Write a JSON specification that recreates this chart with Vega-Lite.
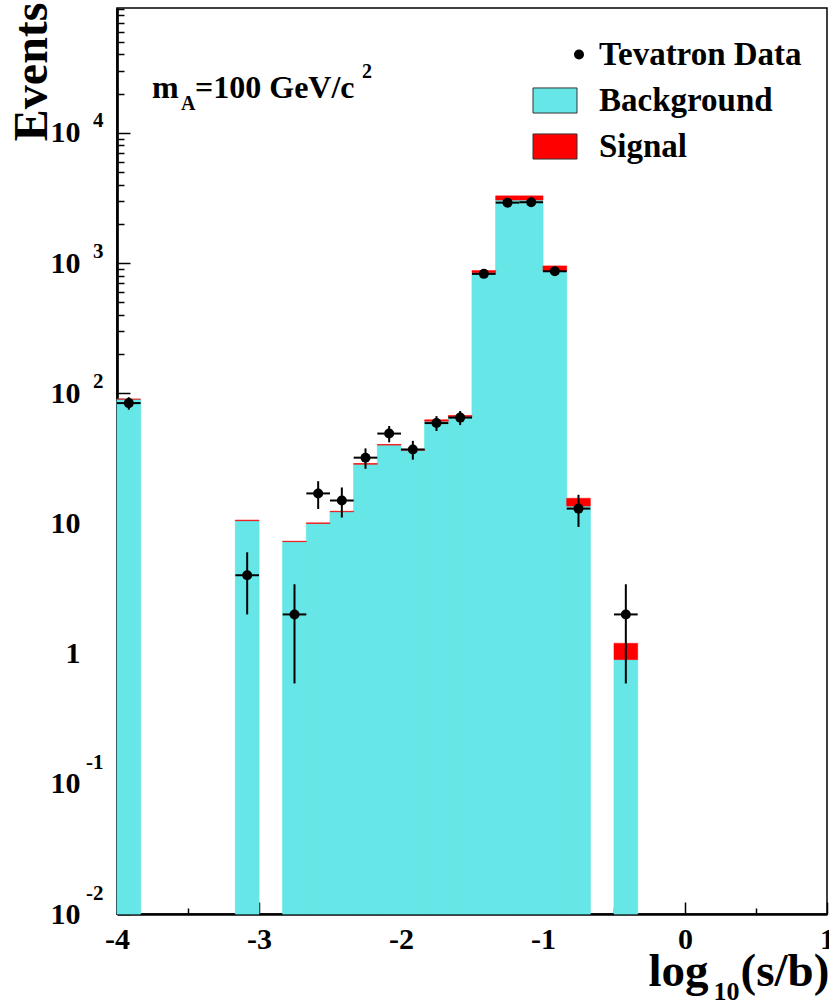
{
  "$schema": "https://vega.github.io/schema/vega-lite/v6.json",
  "width": 710,
  "height": 906,
  "autosize": {"type": "none"},
  "padding": {"left": 117, "top": 8, "right": 2, "bottom": 87},
  "background": "white",
  "config": {
    "view": {"stroke": "black", "strokeWidth": 1.5},
    "font": "Liberation Serif",
    "axis": {"grid": false, "labelFont": "Liberation Serif", "titleFont": "Liberation Serif", "labelFontWeight": "bold", "titleFontWeight": "bold", "labelColor": "black", "titleColor": "black", "tickColor": "black", "domainColor": "black", "labelOverlap": false, "labelFlush": false, "labelBound": false, "zindex": 1},
    "legend": {"labelFont": "Liberation Serif", "labelFontWeight": "bold", "labelColor": "black"}
  },
  "datasets": {
    "hist": [
      {"lo": -4, "hi": -3.8333, "bg": 90, "tot": 90},
      {"lo": -3.1667, "hi": -3, "bg": 10.5, "tot": 10.6},
      {"lo": -2.8333, "hi": -2.6667, "bg": 7.25, "tot": 7.3},
      {"lo": -2.6667, "hi": -2.5, "bg": 10.0, "tot": 10.1},
      {"lo": -2.5, "hi": -2.3333, "bg": 12.3, "tot": 12.4},
      {"lo": -2.3333, "hi": -2.1667, "bg": 28.5, "tot": 28.8},
      {"lo": -2.1667, "hi": -2, "bg": 40, "tot": 40.4},
      {"lo": -2, "hi": -1.8333, "bg": 36.5, "tot": 36.9},
      {"lo": -1.8333, "hi": -1.6667, "bg": 61, "tot": 62.5},
      {"lo": -1.6667, "hi": -1.5, "bg": 66, "tot": 67.5},
      {"lo": -1.5, "hi": -1.3333, "bg": 845, "tot": 875},
      {"lo": -1.3333, "hi": -1.1667, "bg": 3050, "tot": 3280},
      {"lo": -1.1667, "hi": -1, "bg": 3050, "tot": 3280},
      {"lo": -1, "hi": -0.8333, "bg": 860, "tot": 950},
      {"lo": -0.8333, "hi": -0.6667, "bg": 13.6, "tot": 15.6},
      {"lo": -0.5, "hi": -0.3333, "bg": 0.9, "tot": 1.2}
    ],
    "obs": [
      {"x": -3.9167, "xlo": -4, "xhi": -3.8333, "n": 84, "elo": 74.8, "ehi": 93.2},
      {"x": -3.0833, "xlo": -3.1667, "xhi": -3, "n": 4, "elo": 2, "ehi": 6},
      {"x": -2.75, "xlo": -2.8333, "xhi": -2.6667, "n": 2, "elo": 0.59, "ehi": 3.41},
      {"x": -2.5833, "xlo": -2.6667, "xhi": -2.5, "n": 17, "elo": 12.9, "ehi": 21.1},
      {"x": -2.4167, "xlo": -2.5, "xhi": -2.3333, "n": 15, "elo": 11.1, "ehi": 18.9},
      {"x": -2.25, "xlo": -2.3333, "xhi": -2.1667, "n": 32, "elo": 26.3, "ehi": 37.7},
      {"x": -2.0833, "xlo": -2.1667, "xhi": -2, "n": 49, "elo": 42, "ehi": 56},
      {"x": -1.9167, "xlo": -2, "xhi": -1.8333, "n": 37, "elo": 30.9, "ehi": 43.1},
      {"x": -1.75, "xlo": -1.8333, "xhi": -1.6667, "n": 59, "elo": 51.3, "ehi": 66.7},
      {"x": -1.5833, "xlo": -1.6667, "xhi": -1.5, "n": 65, "elo": 56.9, "ehi": 73.1},
      {"x": -1.4167, "xlo": -1.5, "xhi": -1.3333, "n": 826, "elo": 797, "ehi": 855},
      {"x": -1.25, "xlo": -1.3333, "xhi": -1.1667, "n": 2911, "elo": 2857, "ehi": 2965},
      {"x": -1.0833, "xlo": -1.1667, "xhi": -1, "n": 2932, "elo": 2878, "ehi": 2986},
      {"x": -0.9167, "xlo": -1, "xhi": -0.8333, "n": 865, "elo": 836, "ehi": 894},
      {"x": -0.75, "xlo": -0.8333, "xhi": -0.6667, "n": 13, "elo": 9.4, "ehi": 16.6},
      {"x": -0.4167, "xlo": -0.5, "xhi": -0.3333, "n": 2, "elo": 0.59, "ehi": 3.41}
    ]
  },
  "layer": [
    {
      "data": {"name": "hist"},
      "mark": {"type": "rect", "stroke": "#66e6e6", "strokeWidth": 0.8},
      "encoding": {
        "x": {"field": "lo", "type": "quantitative", "scale": {"domain": [-4, 1], "nice": false, "zero": false},
          "axis": {"orient": "bottom", "values": [-4, -3, -2, -1, 0, 1], "labelExpr": "'' + datum.value", "tickSize": -12, "tickWidth": 1.5, "domainWidth": 2.7, "labelFontSize": 30, "labelPadding": 22, "labelBaseline": "top", "labelAlign": "center",
            "title": "log", "titleFontSize": 47, "titleX": 531, "titleY": 71, "titleAlign": "left", "titleBaseline": "alphabetic"}},
        "x2": {"field": "hi"},
        "y": {"field": "bg", "type": "quantitative", "scale": {"type": "log", "domain": [0.01, 91000], "nice": false},
          "axis": {"orient": "left", "values": [0.01, 0.1, 1, 10, 100, 1000, 10000], "labelExpr": "datum.value == 1 ? '1' : '10'", "tickSize": -13, "tickWidth": 1.5, "domainWidth": 2.7, "labelFontSize": 30, "labelPadding": 50, "labelAlign": "right", "labelBaseline": "middle",
            "title": "Events", "titleFontSize": 48, "titleX": -71, "titleY": -6, "titleAlign": "right", "titleBaseline": "alphabetic", "titleAngle": -90}},
        "y2": {"datum": 0.01},
        "color": {"datum": "Background", "type": "nominal",
          "scale": {"domain": ["Tevatron Data", "Background", "Signal"], "range": ["black", "#66e6e6", "#ff0000"]},
          "legend": {"orient": "none", "legendX": 422, "legendY": 30, "title": null, "padding": 0, "labelFontSize": 33, "labelOffset": 27, "rowPadding": 12, "labelLimit": 0,
            "symbolType": "M-1,-0.57H1V0.57H-1Z", "symbolSize": 1936, "symbolStrokeColor": "#333333", "symbolStrokeWidth": 1, "symbolOpacity": 1,
            "encode": {"symbols": {"update": {
              "shape": {"signal": "datum.value === 'Tevatron Data' ? 'circle' : 'M-1,-0.57H1V0.57H-1Z'"},
              "size": {"signal": "datum.value === 'Tevatron Data' ? 100 : 1936"},
              "x": {"signal": "datum.value === 'Tevatron Data' ? 40 : 16"},
              "strokeWidth": {"signal": "datum.value === 'Tevatron Data' ? 0 : 1"}}}}}}
      }
    },
    {
      "data": {"name": "hist"},
      "mark": {"type": "rect", "stroke": "#ff0000", "strokeWidth": 0.6},
      "encoding": {
        "x": {"field": "lo", "type": "quantitative", "scale": {"domain": [-4, 1], "nice": false, "zero": false},
          "axis": {"orient": "bottom", "values": [-3.5, -2.5, -1.5, -0.5, 0.5], "tickSize": -6, "tickWidth": 1.5, "labels": false, "domain": false,
            "title": "10", "titleFontSize": 26, "titleX": 596, "titleY": 85, "titleAlign": "left", "titleBaseline": "alphabetic"}},
        "x2": {"field": "hi"},
        "y": {"field": "bg", "type": "quantitative", "scale": {"type": "log", "domain": [0.01, 91000], "nice": false},
          "axis": {"orient": "left", "values": [0.01, 0.1, 1, 10, 100, 1000, 10000], "ticks": false, "domain": false,
            "labelExpr": "datum.value == 0.01 ? '-2' : datum.value == 0.1 ? '-1' : datum.value == 100 ? '2' : datum.value == 1000 ? '3' : datum.value == 10000 ? '4' : ''",
            "labelFontSize": 21, "labelPadding": 14, "labelAlign": "right", "labelBaseline": "middle",
            "labelOffset": {"condition": {"test": "datum.value < 0.5", "value": -21}, "value": -12}, "title": null}},
        "y2": {"field": "tot"},
        "color": {"datum": "Signal", "type": "nominal"}
      }
    },
    {
      "data": {"name": "obs"},
      "mark": {"type": "rule", "color": "black", "strokeWidth": 2},
      "encoding": {
        "x": {"field": "x", "type": "quantitative", "scale": {"domain": [-4, 1], "nice": false, "zero": false},
          "axis": {"orient": "bottom", "ticks": false, "labels": false, "domain": false,
            "title": "(s/b)", "titleFontSize": 47, "titleX": 623, "titleY": 71, "titleAlign": "left", "titleBaseline": "alphabetic"}},
        "y": {"field": "elo", "type": "quantitative", "scale": {"type": "log", "domain": [0.01, 91000], "nice": false},
          "axis": {"orient": "left", "values": [0.02, 0.03, 0.04, 0.05, 0.06, 0.07, 0.08, 0.09, 0.2, 0.3, 0.4, 0.5, 0.6, 0.7, 0.8, 0.9, 2, 3, 4, 5, 6, 7, 8, 9, 20, 30, 40, 50, 60, 70, 80, 90, 200, 300, 400, 500, 600, 700, 800, 900, 2000, 3000, 4000, 5000, 6000, 7000, 8000, 9000, 20000, 30000, 40000, 50000, 60000, 70000, 80000, 90000],
            "tickSize": -7, "tickWidth": 1.5, "labels": false, "domain": false, "title": null}},
        "y2": {"field": "ehi"}
      }
    },
    {
      "data": {"name": "obs"},
      "mark": {"type": "rule", "color": "black", "strokeWidth": 2},
      "encoding": {
        "x": {"field": "xlo", "type": "quantitative", "axis": null},
        "x2": {"field": "xhi"},
        "y": {"field": "n", "type": "quantitative", "axis": null}
      }
    },
    {
      "data": {"name": "obs"},
      "mark": {"type": "point", "filled": true, "size": 100, "opacity": 1, "shape": "circle"},
      "encoding": {
        "x": {"field": "x", "type": "quantitative", "axis": null},
        "y": {"field": "n", "type": "quantitative", "axis": null},
        "color": {"datum": "Tevatron Data", "type": "nominal"}
      }
    },
    {
      "data": {"values": [{"t": "m"}]},
      "mark": {"type": "text", "align": "left", "baseline": "alphabetic", "fontSize": 32, "fontWeight": "bold", "font": "Liberation Serif", "color": "black"},
      "encoding": {"x": {"datum": -3.7535, "type": "quantitative", "axis": null}, "y": {"datum": 18565, "type": "quantitative", "axis": null}, "text": {"field": "t"}}
    },
    {
      "data": {"values": [{"t": "A"}]},
      "mark": {"type": "text", "align": "left", "baseline": "alphabetic", "fontSize": 20, "fontWeight": "bold", "font": "Liberation Serif", "color": "black"},
      "encoding": {"x": {"datum": -3.5493, "type": "quantitative", "axis": null}, "y": {"datum": 15017, "type": "quantitative", "axis": null}, "text": {"field": "t"}}
    },
    {
      "data": {"values": [{"t": "=100 GeV/c"}]},
      "mark": {"type": "text", "align": "left", "baseline": "alphabetic", "fontSize": 32, "fontWeight": "bold", "font": "Liberation Serif", "color": "black"},
      "encoding": {"x": {"datum": -3.4507, "type": "quantitative", "axis": null}, "y": {"datum": 18565, "type": "quantitative", "axis": null}, "text": {"field": "t"}}
    },
    {
      "data": {"values": [{"t": "2"}]},
      "mark": {"type": "text", "align": "left", "baseline": "alphabetic", "fontSize": 20, "fontWeight": "bold", "font": "Liberation Serif", "color": "black"},
      "encoding": {"x": {"datum": -2.2746, "type": "quantitative", "axis": null}, "y": {"datum": 26500, "type": "quantitative", "axis": null}, "text": {"field": "t"}}
    }
  ],
  "resolve": {"axis": {"x": "independent", "y": "independent"}}
}
